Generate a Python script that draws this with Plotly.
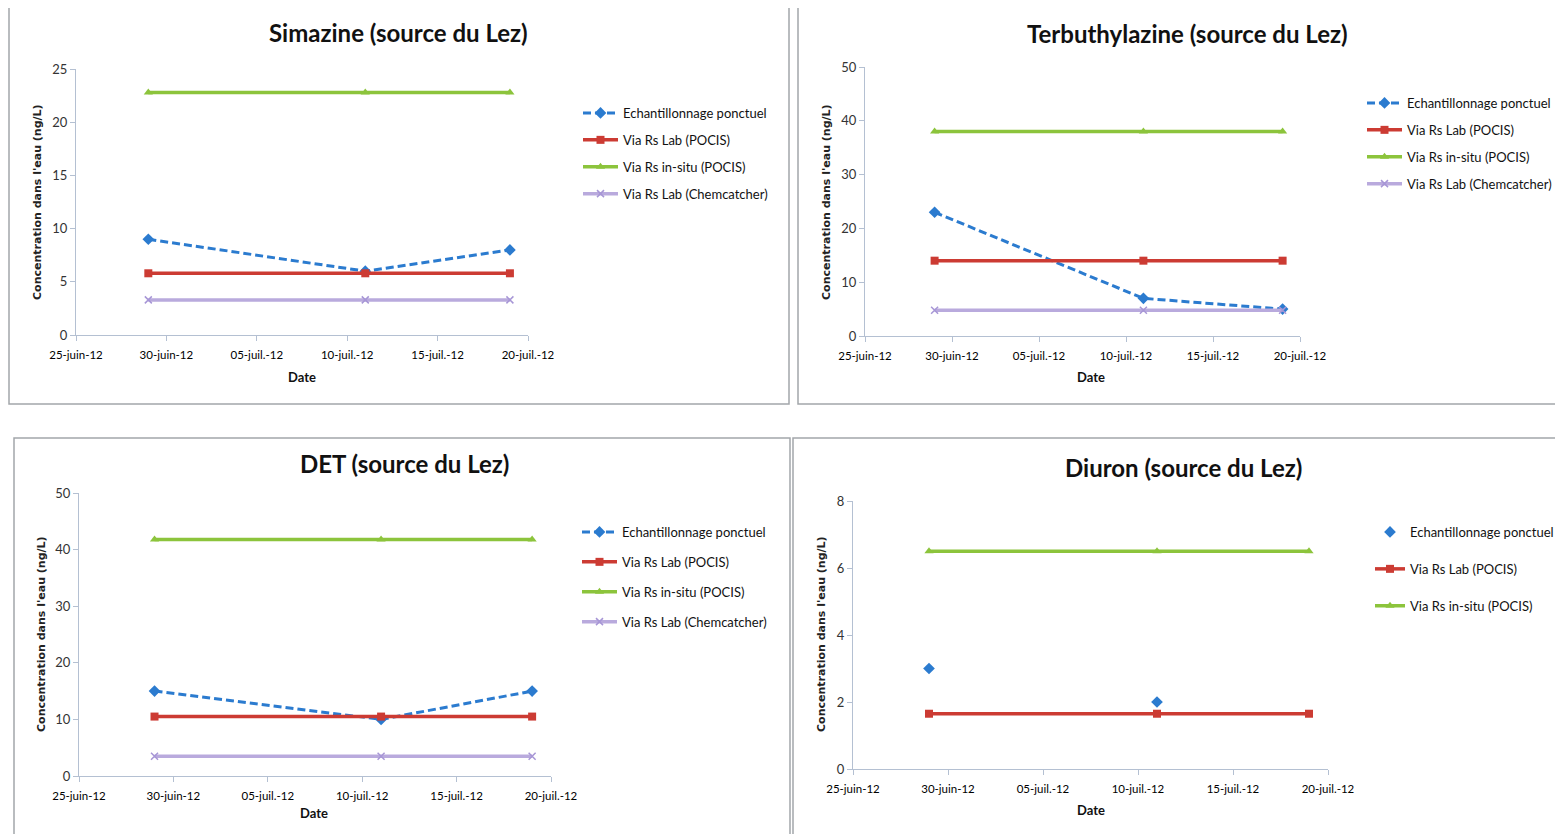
import plotly.graph_objects as go

W, H = 1563, 834

# ---------------- data ----------------
dates = ["2012-06-29", "2012-07-11", "2012-07-19"]

series_names = ["Echantillonnage ponctuel", "Via Rs Lab (POCIS)",
                "Via Rs in-situ (POCIS)", "Via Rs Lab (Chemcatcher)"]

simazine_ponctuel = [9, 6, 8]
simazine_lab_pocis = [5.8, 5.8, 5.8]
simazine_insitu_pocis = [22.8, 22.8, 22.8]
simazine_lab_chem = [3.3, 3.3, 3.3]

terbu_ponctuel = [23, 7, 5]
terbu_lab_pocis = [14, 14, 14]
terbu_insitu_pocis = [38, 38, 38]
terbu_lab_chem = [4.8, 4.8, 4.8]

det_ponctuel = [15, 10, 15]
det_lab_pocis = [10.5, 10.5, 10.5]
det_insitu_pocis = [41.8, 41.8, 41.8]
det_lab_chem = [3.5, 3.5, 3.5]

diuron_ponctuel = [3, 2, None]
diuron_lab_pocis = [1.65, 1.65, 1.65]
diuron_insitu_pocis = [6.5, 6.5, 6.5]

titles = ["Simazine (source du Lez)", "Terbuthylazine (source du Lez)",
          "DET (source du Lez)", "Diuron (source du Lez)"]

x_tickvals = ["2012-06-25", "2012-06-30", "2012-07-05", "2012-07-10", "2012-07-15", "2012-07-20"]
x_ticktext = ["25-juin-12", "30-juin-12", "05-juil.-12", "10-juil.-12", "15-juil.-12", "20-juil.-12"]

y_maxes = [25, 50, 50, 8]
y_dticks = [5, 10, 10, 2]

# ---------------- style ----------------
C_BLUE = "#2B7BCF"
C_RED = "#CC3B33"
C_GREEN = "#8CC43C"
C_PURPLE = "#B9AADD"
AXIS_COL = "#B4C0D2"
FONT = "Lato, Roboto, Liberation Sans, Arial, sans-serif"

# the page body adds an 8px offset; compensate so positions match the window
OFF = 8

def px(x):
    return (x - OFF) / W

def py(y):
    return 1 - (y - OFF) / H

# plot areas in pixels: (x_left, x_right, y_bottom(0), y_top(max))
areas = [
    (76, 528, 335, 69),
    (865, 1300, 336, 67),
    (79, 551, 776, 493),
    (853, 1328, 769, 501),
]
# panel borders (x0, y0, x1, y1)
borders = [
    (9, 5, 789, 404),
    (798, 5, 1575, 404),
    (14, 438, 790, 850),
    (793, 438, 1575, 850),
]
title_pos = [(398, 32), (1187, 33), (404, 463), (1183, 467)]
ytitle_pos = [(37, 202), (826, 202), (41, 634), (821, 634)]
xtitle_pos = [(302, 377), (1091, 377), (314, 813), (1091, 810)]
legend_pos = [(578, 98), (1362, 88), (577, 517), (1370, 517)]
legend_itemw = [35, 35, 35, 30]
legend_gaps = [7, 7, 10, 17]

panels = [
    [simazine_ponctuel, simazine_lab_pocis, simazine_insitu_pocis, simazine_lab_chem],
    [terbu_ponctuel, terbu_lab_pocis, terbu_insitu_pocis, terbu_lab_chem],
    [det_ponctuel, det_lab_pocis, det_insitu_pocis, det_lab_chem],
    [diuron_ponctuel, diuron_lab_pocis, diuron_insitu_pocis],
]

fig = go.Figure()
layout = dict(
    width=W, height=H,
    margin=dict(l=0, r=0, t=0, b=0, autoexpand=False),
    paper_bgcolor="white", plot_bgcolor="white",
    showlegend=True,
    font=dict(family=FONT, color="#222222"),
)
shapes = []
annotations = []

for i, (vals, area) in enumerate(zip(panels, areas)):
    n = i + 1
    xa = "x" if n == 1 else f"x{n}"
    ya = "y" if n == 1 else f"y{n}"
    lg = "legend" if n == 1 else f"legend{n}"
    xl, xr, yb, yt = area

    styles = [
        dict(line=dict(color=C_BLUE, width=3, dash="8px,4px"),
             marker=dict(symbol="diamond", size=9, color=C_BLUE)),
        dict(line=dict(color=C_RED, width=3.5),
             marker=dict(symbol="square", size=8, color=C_RED)),
        dict(line=dict(color=C_GREEN, width=3.5),
             marker=dict(symbol="triangle-up", size=8, color=C_GREEN)),
        dict(line=dict(color=C_PURPLE, width=3.5),
             marker=dict(symbol="x-thin", size=7, color=C_PURPLE,
                         line=dict(color="#A796D6", width=1.5))),
    ]
    for j, v in enumerate(vals):
        st = styles[j]
        mode = "lines+markers"
        if n == 4 and j == 0:
            mode = "markers"
        fig.add_trace(go.Scatter(
            x=dates, y=v, name=series_names[j], mode=mode,
            xaxis=xa, yaxis=ya, legend=lg, legendgroup=f"p{n}s{j}",
            line=st["line"], marker=st["marker"], connectgaps=False,
        ))

    axis_common = dict(showgrid=False, zeroline=False, showline=True,
                       linecolor=AXIS_COL, linewidth=1, ticks="outside",
                       tickcolor=AXIS_COL, ticklen=5, fixedrange=True,
                       automargin=False)
    layout["xaxis" if n == 1 else f"xaxis{n}"] = dict(
        axis_common, type="date", anchor=ya,
        domain=[px(xl), px(xr)],
        range=["2012-06-25", "2012-07-20"],
        tickvals=x_tickvals, ticktext=x_ticktext,
        tickfont=dict(size=11.5, family=FONT, color="#000000"),
        ticklabelstandoff=4,
    )
    layout["yaxis" if n == 1 else f"yaxis{n}"] = dict(
        axis_common, anchor=xa,
        domain=[py(yb), py(yt)],
        range=[0, y_maxes[i]], dtick=y_dticks[i], tick0=0,
        tickfont=dict(size=13, family=FONT, color="#333333"),
    )
    lx, ly = legend_pos[i]
    layout[lg] = dict(
        x=px(lx), y=py(ly), xanchor="left", yanchor="top",
        bgcolor="rgba(0,0,0,0)", borderwidth=0,
        font=dict(size=13, family=FONT, color="#111111"),
        itemwidth=legend_itemw[i], tracegroupgap=legend_gaps[i],
    )

    bx0, by0, bx1, by1 = borders[i]
    shapes.append(dict(type="rect", xref="paper", yref="paper",
                       x0=px(bx0), y0=py(by1), x1=px(bx1), y1=py(by0),
                       line=dict(color="#A3A6AB", width=1.5), fillcolor="rgba(0,0,0,0)"))

    tx, ty = title_pos[i]
    annotations.append(dict(text=f"<b>{titles[i]}</b>", x=px(tx), y=py(ty),
                            xref="paper", yref="paper", showarrow=False,
                            xanchor="center", yanchor="middle",
                            font=dict(size=24, family=FONT, color="#111111")))
    yx, yy = ytitle_pos[i]
    annotations.append(dict(text="<b>Concentration dans l'eau (ng/L)</b>", x=px(yx), y=py(yy),
                            xref="paper", yref="paper", showarrow=False, textangle=-90,
                            xanchor="center", yanchor="middle",
                            font=dict(size=11, family="DejaVu Sans, Verdana, sans-serif",
                                      color="#222222")))
    dx, dy = xtitle_pos[i]
    annotations.append(dict(text="<b>Date</b>", x=px(dx), y=py(dy),
                            xref="paper", yref="paper", showarrow=False,
                            xanchor="center", yanchor="middle",
                            font=dict(size=13, family=FONT, color="#111111")))

layout["shapes"] = shapes
layout["annotations"] = annotations
fig.update_layout(**layout)
fig.write_html("out.html")
